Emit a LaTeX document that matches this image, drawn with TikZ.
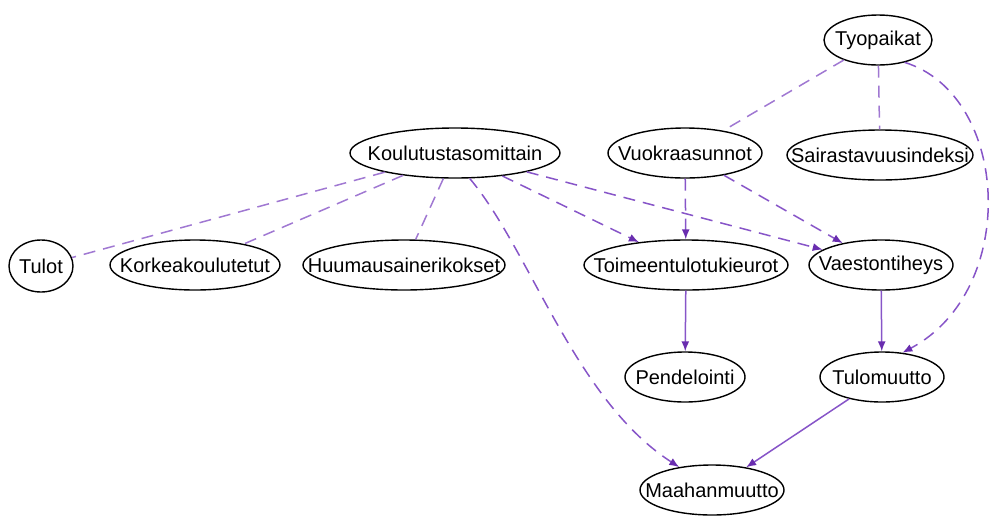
\documentclass[tikz,border=0pt]{standalone}
\usepackage{fontspec}
\setmainfont{Liberation Sans}
\usepackage{tikz}
\usetikzlibrary{shapes.geometric, arrows.meta}
\definecolor{linkcol}{RGB}{160,120,210}
\definecolor{depcol}{RGB}{135,85,200}
\definecolor{tipcol}{RGB}{105,45,175}

\begin{document}
\begin{tikzpicture}[x=0.5pt, y=-0.5pt,
    var/.style={draw=black, line width=0.7pt, ellipse, inner xsep=-20pt, inner ysep=0pt, minimum height=25pt, font=\fontsize{10}{12}\selectfont},
    link/.style={linkcol, line width=0.75pt, dash pattern=on 6pt off 4pt},
    dep/.style={depcol, line width=0.75pt, -{Latex[length=5pt, width=4pt, tipcol]}},
    weak/.style={dep, dash pattern=on 6pt off 4pt}]
                \useasboundingbox (0,0) rectangle (995,515);
                \node[var, minimum width=54pt] (tyo) at (878, 40) {Tyopaikat};
                \node[var, minimum width=77pt] (vuok) at (685, 153) {Vuokraasunnot};
                \node[var, minimum width=93pt] (sair) at (880, 155) {Sairastavuusindeksi};
                \node[var, minimum width=105pt] (koul) at (455, 153) {Koulutustasomittain};
                \node[var, minimum width=32pt, minimum height=26pt] (tulot) at (41, 266) {Tulot};
                \node[var, minimum width=85pt] (korkea) at (195, 265) {Korkeakoulutetut};
                \node[var, minimum width=101pt] (huum) at (404, 265) {Huumausainerikokset};
                \node[var, minimum width=102pt] (toim) at (686, 265) {Toimeentulotukieurot};
                \node[var, minimum width=72pt] (vaest) at (881, 265) {Vaestontiheys};
                \node[var, minimum width=60pt] (pend) at (685, 377) {Pendelointi};
                \node[var, minimum width=62pt] (tulo) at (882, 377) {Tulomuutto};
                \node[var, minimum width=72pt] (maah) at (712, 490) {Maahanmuutto};
                % undirected links
                \draw[link] (tyo) -- (vuok);
                \draw[link] (tyo) -- (sair);
                \draw[link] (koul) -- (tulot);
                \draw[link] (koul) -- (korkea);
                \draw[link] (koul) -- (huum);
                % dashed arrows
                \draw[weak] (koul) -- (toim);
                \draw[weak] (koul) -- (vaest);
                \draw[weak] (vuok) -- (toim);
                \draw[weak] (vuok) -- (vaest);
                \draw[weak] (koul.-60) .. controls (530, 250) and (575, 400) .. (maah.145);
                \draw[weak] (tyo.-40) .. controls (1010, 95) and (1020, 290) .. (tulo.50);
                % solid arrows
                \draw[dep] (toim) -- (pend);
                \draw[dep] (vaest) -- (tulo);
                \draw[dep] (tulo) -- (maah);
            \end{tikzpicture}
\end{document}
